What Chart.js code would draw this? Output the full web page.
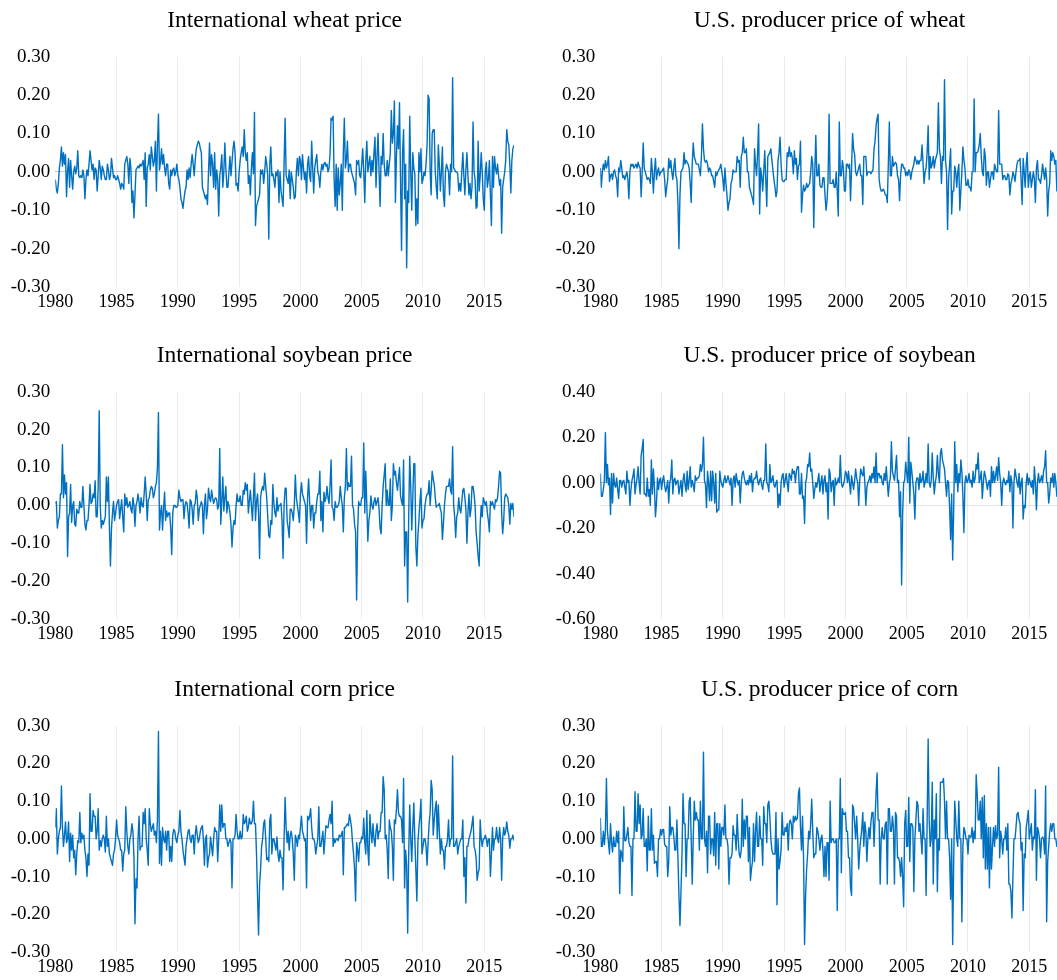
<!DOCTYPE html>
<html><head><meta charset="utf-8">
<script src="https://cdn.jsdelivr.net/npm/chart.js@4.4.1/dist/chart.umd.min.js"></script>
<style>
html,body{margin:0;padding:0;background:#fff;overflow:hidden;width:1057px;height:980px;}
body{position:relative;}
canvas{position:absolute;}
</style></head><body>
<canvas id="c0"></canvas><canvas id="c1"></canvas><canvas id="c2"></canvas>
<canvas id="c3"></canvas><canvas id="c4"></canvas><canvas id="c5"></canvas>
<script>
// Monthly series, first value = January 1980
const START_YEAR = 1980;
const xTickYears = [1980, 1985, 1990, 1995, 2000, 2005, 2010, 2015];
const titles = ["International wheat price", "U.S. producer price of wheat",
  "International soybean price", "U.S. producer price of soybean",
  "International corn price", "U.S. producer price of corn"];
const yTicksStd = [-0.30, -0.20, -0.10, 0.00, 0.10, 0.20, 0.30];
const yTicksUsSoy = [-0.60, -0.40, -0.20, 0.00, 0.20, 0.40];

const intlWheat = [
-0.02,-0.045,-0.055,-0.03,0.01,0.03,0.065,0.015,0.05,0.02,0.045,-0.065,
0.0,0.035,-0.04,0.03,-0.01,-0.045,0.0,0.015,-0.005,0.01,0.055,-0.01,
-0.015,-0.01,-0.015,0.005,-0.01,-0.07,-0.02,0.005,-0.01,0.02,0.055,0.03,
0.005,0.02,-0.02,0.01,0.005,-0.05,-0.01,0.03,0.01,-0.02,0.015,0.005,
-0.01,-0.02,-0.02,0.02,0.005,-0.02,-0.01,0.035,0.01,-0.015,-0.01,-0.02,
-0.02,-0.01,-0.02,-0.03,-0.045,-0.03,-0.035,-0.045,0.02,0.03,0.04,0.02,
-0.03,0.035,0.01,-0.08,-0.05,-0.12,-0.06,0.005,0.01,0.015,0.01,0.02,
0.015,0.02,0.03,-0.02,0.05,-0.09,0.01,0.02,0.045,0.005,0.065,0.04,
0.015,0.03,0.08,-0.05,0.07,0.15,0.005,0.025,0.06,0.02,0.045,0.01,
-0.01,0.02,0.02,-0.03,-0.045,0.005,-0.01,0.005,0.01,-0.01,0.0,0.02,
-0.01,-0.02,-0.04,-0.07,-0.08,-0.095,-0.07,-0.05,-0.04,0.005,-0.02,0.01,
-0.015,0.02,0.045,0.02,-0.01,0.03,0.06,0.07,0.08,0.075,0.06,0.05,
-0.04,-0.05,-0.06,-0.07,-0.06,-0.085,0.0,0.075,-0.01,0.045,0.02,-0.04,
0.05,-0.045,0.005,-0.02,-0.115,-0.01,0.01,0.045,-0.04,0.0,0.075,0.01,
-0.04,-0.04,0.0,0.04,-0.01,0.025,0.06,0.08,0.05,-0.035,-0.03,-0.05,
0.0,0.03,0.05,0.065,0.04,0.11,0.05,0.03,0.05,-0.03,-0.01,-0.06,
0.01,0.05,-0.005,0.155,-0.14,-0.09,-0.08,-0.07,-0.06,0.005,-0.005,0.005,
-0.03,0.0,0.04,0.02,-0.01,-0.175,0.02,0.065,-0.01,-0.005,-0.02,-0.04,
0.0,-0.01,0.005,-0.08,0.0,-0.05,-0.07,-0.09,0.02,0.14,-0.01,-0.02,
-0.03,0.005,-0.07,0.0,-0.02,-0.04,-0.07,-0.065,0.0,0.035,-0.01,0.04,
0.03,-0.02,0.045,0.01,-0.02,0.0,-0.055,0.02,0.04,-0.01,-0.025,0.08,
0.01,-0.055,0.01,0.03,0.045,0.0,-0.01,-0.04,0.0,0.02,0.005,0.02,
0.025,0.015,0.02,0.0,0.01,0.045,0.14,0.135,0.145,-0.02,-0.09,0.02,
-0.1,0.01,-0.06,-0.03,0.02,-0.1,0.05,0.14,0.01,0.03,0.08,0.0,
0.02,0.02,0.0,-0.01,-0.02,-0.03,-0.06,0.03,0.02,0.03,-0.01,-0.015,
0.02,0.06,0.0,-0.08,0.03,0.08,0.0,0.02,0.04,-0.01,0.03,0.0,
0.05,0.09,-0.04,0.04,0.10,0.0,-0.09,0.04,0.02,0.10,0.02,-0.01,
-0.01,0.03,-0.01,0.02,0.05,0.16,0.075,0.10,0.185,-0.08,0.04,0.12,
0.06,0.18,-0.02,-0.205,0.05,0.11,-0.07,0.02,-0.25,-0.05,-0.08,0.145,
0.0,-0.1,0.05,0.01,-0.005,-0.14,-0.07,-0.135,0.05,0.0,0.06,-0.03,
-0.02,0.0,-0.01,0.02,0.07,0.20,0.19,0.0,-0.06,0.10,0.11,0.11,
0.0,-0.04,-0.07,0.07,0.02,-0.05,0.0,0.065,-0.06,-0.09,0.0,0.02,
0.01,0.0,-0.06,0.02,0.0,0.245,0.01,0.005,0.0,0.0,-0.005,-0.05,
-0.03,-0.05,0.0,0.05,-0.01,-0.06,0.005,0.05,-0.01,-0.06,-0.03,-0.07,
-0.04,0.13,0.0,-0.02,-0.095,-0.09,0.08,-0.05,-0.01,0.05,0.0,-0.07,
-0.1,0.0,0.025,-0.04,-0.02,0.03,-0.06,-0.14,0.04,-0.04,0.04,0.01,
-0.005,0.02,-0.01,-0.035,-0.02,-0.16,-0.04,-0.02,0.0,0.03,0.11,0.08,
0.07,0.02,-0.055,0.03,0.06,0.07];

const usWheat = [
0.01,-0.04,0.0,0.02,0.005,0.03,0.01,0.02,0.04,-0.025,-0.01,-0.005,
-0.02,0.0,0.005,-0.01,-0.02,-0.065,0.01,0.0,0.03,0.01,-0.015,-0.01,
-0.02,-0.01,0.0,-0.02,-0.07,0.0,0.02,0.015,0.02,0.01,0.015,0.02,
0.01,0.025,0.015,0.01,-0.065,0.0,0.075,0.01,0.0,-0.01,-0.02,-0.015,
-0.02,-0.03,0.035,0.0,-0.055,0.0,0.035,-0.02,0.0,0.01,-0.01,0.0,
0.0,0.005,0.01,-0.02,-0.065,-0.04,-0.02,0.035,0.01,0.03,0.0,-0.02,
0.01,0.035,-0.01,-0.02,-0.08,-0.2,-0.06,0.0,0.005,0.01,0.05,0.02,
0.03,0.025,0.02,0.01,-0.03,-0.08,0.02,0.075,0.04,0.03,0.02,0.02,
0.02,0.005,-0.01,0.04,0.125,0.06,0.03,0.025,0.03,0.02,0.0,0.01,
0.005,-0.01,-0.01,-0.025,-0.04,0.0,-0.01,0.0,0.005,0.01,0.02,0.0,
-0.02,-0.05,0.01,-0.03,-0.06,-0.1,-0.08,-0.07,-0.03,-0.02,0.005,0.0,
0.0,0.0,0.04,0.025,0.03,-0.04,0.04,0.05,0.09,0.05,0.05,0.06,
0.0,0.0,-0.04,-0.05,-0.06,-0.07,-0.085,0.06,0.02,-0.01,0.05,0.125,
-0.11,0.01,-0.01,-0.05,0.0,0.055,-0.02,-0.09,0.04,0.045,0.05,0.06,
0.03,0.005,-0.02,-0.04,-0.065,-0.05,0.03,0.05,0.09,0.02,-0.02,-0.025,
-0.025,-0.02,-0.02,0.05,0.04,0.065,0.04,0.05,0.035,-0.005,0.055,0.02,
0.035,-0.02,0.015,0.02,0.08,-0.105,-0.06,-0.035,-0.05,-0.045,-0.03,-0.04,
-0.035,-0.03,0.0,0.04,0.02,-0.145,0.0,0.095,-0.01,-0.01,0.02,-0.035,
-0.04,-0.04,-0.015,-0.015,-0.06,-0.1,-0.075,-0.02,0.15,-0.03,-0.03,-0.03,
-0.02,-0.04,-0.04,0.0,-0.05,-0.115,0.13,-0.01,-0.01,0.03,0.01,-0.05,
-0.05,0.02,0.02,0.01,0.02,-0.075,0.01,0.1,0.06,0.045,0.0,-0.01,
0.0,0.01,0.02,-0.01,-0.01,-0.085,0.04,0.04,0.04,-0.01,0.0,0.0,
0.0,-0.005,0.0,0.005,0.06,0.08,0.12,0.14,0.15,-0.02,-0.04,-0.05,
-0.05,-0.045,-0.05,-0.06,-0.06,-0.08,0.02,0.13,-0.01,-0.01,0.04,0.015,
0.02,0.025,0.02,-0.01,-0.02,-0.075,-0.01,0.02,0.02,0.01,0.01,-0.01,
0.0,-0.01,0.005,0.0,-0.02,0.0,0.01,0.02,0.04,0.03,0.02,0.03,
0.02,0.03,0.03,0.07,0.02,-0.03,0.0,0.01,0.05,0.12,-0.02,0.04,
0.01,0.02,0.04,0.01,0.03,0.04,0.05,0.18,0.06,0.04,-0.03,0.04,
0.03,0.24,0.03,0.0,-0.15,-0.02,0.02,0.06,-0.11,-0.05,-0.05,0.015,
0.0,-0.04,0.0,0.02,-0.1,-0.05,0.0,0.065,0.03,0.01,-0.035,-0.035,
-0.02,-0.04,-0.04,-0.05,0.0,0.0,0.19,0.0,0.05,0.05,0.055,0.07,
0.1,0.04,0.0,-0.01,0.06,0.04,-0.035,0.0,0.0,-0.04,-0.02,0.0,
0.0,-0.02,0.02,0.01,0.0,0.0,0.16,0.02,0.02,0.02,-0.02,-0.01,
-0.01,-0.02,-0.02,-0.005,-0.01,-0.06,-0.03,-0.02,0.0,-0.01,-0.025,0.0,
0.02,0.03,0.03,0.035,-0.02,-0.085,0.035,0.0,-0.04,0.02,0.05,-0.04,
-0.01,0.0,-0.04,-0.02,0.0,-0.02,-0.08,0.01,0.03,-0.02,-0.02,-0.03,
-0.01,0.02,0.0,-0.02,0.01,-0.02,-0.115,-0.05,-0.03,0.055,0.03,0.05,
0.04,0.02,0.03,-0.05,-0.04,-0.03];

const intlSoy = [
0.005,0.01,-0.06,-0.04,-0.03,0.03,0.03,0.16,0.02,0.08,0.03,0.06,
-0.135,-0.03,-0.02,0.055,-0.045,0.0,0.01,-0.05,-0.055,-0.01,-0.02,-0.02,
0.01,-0.005,-0.005,0.05,0.0,-0.05,-0.065,-0.04,-0.04,0.0,0.055,0.005,
0.01,0.03,0.02,0.065,-0.03,-0.03,0.05,0.25,0.0,-0.06,-0.04,-0.05,
-0.04,-0.03,0.075,0.01,0.075,-0.06,-0.16,-0.06,-0.02,0.01,-0.04,-0.02,
0.0,0.01,0.015,-0.035,-0.01,0.015,-0.03,-0.07,0.03,0.0,0.02,-0.005,
0.0,0.01,-0.01,-0.02,0.02,0.0,-0.055,0.0,0.01,0.03,0.01,-0.02,
0.02,0.0,-0.005,0.03,0.075,0.03,-0.04,0.015,0.02,0.04,0.05,0.045,
0.02,0.03,0.05,0.06,0.1,0.245,-0.065,-0.02,0.0,-0.065,-0.01,0.035,
-0.04,-0.015,-0.03,-0.02,-0.02,-0.06,-0.13,-0.02,0.0,0.0,-0.005,-0.005,
0.0,0.04,0.02,0.01,0.015,0.015,-0.035,0.0,0.01,0.005,-0.02,-0.06,
0.015,0.01,-0.01,-0.05,0.0,0.005,0.04,0.02,-0.04,-0.01,0.0,0.01,
0.0,-0.075,0.0,0.03,-0.035,-0.01,0.045,0.02,0.01,0.04,0.02,0.005,
0.015,0.02,0.015,-0.01,0.0,0.15,-0.05,0.01,0.075,-0.015,0.02,0.05,
-0.02,0.01,0.0,-0.02,-0.05,-0.11,-0.06,-0.04,-0.05,0.0,0.03,0.01,
0.01,0.025,0.0,0.0,0.04,0.03,0.06,0.04,0.055,-0.02,0.01,0.04,
0.0,-0.04,0.02,0.085,-0.04,0.01,0.03,-0.02,-0.14,0.02,0.04,0.05,
0.04,0.085,0.05,0.02,-0.03,-0.08,-0.085,-0.04,-0.05,0.055,0.005,-0.02,
-0.03,0.02,-0.015,0.0,0.0,0.005,-0.04,-0.14,0.0,0.045,0.045,-0.04,
-0.06,-0.085,-0.01,-0.01,-0.02,-0.04,0.0,0.08,0.02,0.0,-0.02,-0.045,
0.03,0.06,0.03,0.02,0.01,0.0,-0.1,0.02,0.07,0.01,-0.04,0.0,
0.0,-0.06,-0.02,-0.02,0.01,0.03,0.03,0.09,-0.04,0.01,-0.07,0.035,
0.01,0.02,0.05,0.02,0.005,0.05,0.12,-0.005,-0.01,-0.04,0.01,-0.005,
-0.005,0.0,0.01,0.05,0.02,0.0,-0.07,0.02,0.05,0.15,0.04,0.06,
0.05,0.05,0.13,0.0,-0.01,-0.05,-0.07,-0.25,-0.07,0.01,0.0,0.0,
0.02,0.02,0.165,-0.02,0.09,0.0,-0.095,-0.04,-0.02,0.025,0.0,-0.01,
0.01,0.02,0.0,0.01,0.02,-0.01,-0.06,-0.075,0.0,0.05,0.08,0.11,
0.0,0.04,0.0,0.0,0.07,-0.04,0.0,0.11,0.08,0.09,0.06,0.04,
0.07,0.1,0.025,0.01,0.0,0.12,-0.16,-0.07,-0.07,-0.255,-0.03,0.13,
0.05,-0.065,0.02,0.11,0.11,-0.11,-0.16,-0.08,-0.04,0.01,0.045,-0.06,
-0.04,-0.035,0.0,0.02,0.03,0.03,0.065,0.0,0.04,0.09,0.07,0.055,
0.02,-0.005,0.0,0.0,0.005,-0.01,-0.02,-0.09,-0.05,0.0,0.03,0.05,
0.05,0.05,0.07,0.04,0.03,0.155,0.0,-0.03,-0.085,-0.03,-0.02,0.02,
-0.01,-0.02,0.01,0.04,0.045,0.02,-0.01,-0.1,-0.02,0.03,-0.03,-0.01,
0.05,0.05,0.03,0.0,-0.07,-0.1,-0.135,-0.16,-0.05,0.0,-0.03,0.02,
0.01,0.0,0.01,-0.02,-0.04,-0.07,0.01,0.0,0.01,0.0,-0.01,0.015,
0.01,0.02,0.05,0.09,0.085,-0.02,-0.075,-0.04,0.02,0.03,0.025,0.02,
0.0,-0.05,0.005,-0.01,0.005,-0.03];

const usSoy = [
0.04,-0.06,-0.06,-0.03,0.01,0.22,0.0,0.08,-0.01,0.02,-0.14,0.04,
-0.09,0.04,-0.01,-0.02,0.02,-0.03,-0.07,0.01,0.01,-0.02,0.005,0.01,
-0.02,-0.05,0.05,0.0,0.01,-0.1,-0.03,0.01,0.03,0.06,-0.05,-0.01,
0.02,0.07,0.0,-0.05,0.12,0.15,0.19,-0.05,-0.05,-0.06,0.02,-0.06,
-0.03,-0.1,0.1,-0.05,0.06,-0.02,-0.15,-0.09,0.02,-0.03,0.01,0.02,
-0.03,0.01,0.03,-0.01,-0.04,-0.02,0.01,-0.09,0.0,0.02,0.1,-0.05,
0.01,0.02,-0.01,0.005,0.01,-0.05,-0.02,0.01,-0.06,0.01,0.04,-0.01,
-0.04,0.05,-0.03,0.01,0.07,-0.02,0.01,-0.01,-0.04,0.03,0.01,0.02,
0.02,0.03,0.08,0.05,0.08,0.2,0.01,-0.01,-0.11,0.05,0.0,-0.08,
0.05,-0.08,0.05,0.0,-0.09,0.04,-0.13,-0.12,-0.12,0.05,0.01,-0.01,
-0.02,0.01,0.03,0.0,0.01,0.03,0.01,-0.01,0.02,-0.1,0.01,0.03,
-0.02,0.04,0.01,-0.01,0.01,-0.09,0.0,0.04,0.05,0.02,0.0,-0.01,
0.01,-0.01,0.03,0.0,0.04,-0.04,0.01,0.02,0.02,0.05,0.01,-0.01,
0.01,0.02,-0.01,-0.03,0.01,0.01,0.17,0.0,-0.01,-0.04,0.08,0.0,
0.01,0.03,-0.01,-0.02,0.0,0.01,-0.11,-0.05,-0.1,0.0,0.03,0.04,
-0.02,0.01,0.04,0.0,-0.04,0.04,0.03,0.01,0.06,0.04,0.05,0.0,
0.05,0.07,0.07,-0.05,-0.05,0.04,-0.07,-0.06,-0.18,0.0,0.02,0.08,
0.07,0.13,0.05,0.06,0.0,-0.07,-0.03,0.0,-0.02,0.01,0.04,-0.04,
0.0,0.03,-0.05,0.01,0.03,-0.04,0.0,-0.16,0.06,0.04,-0.04,0.0,
0.01,-0.1,0.02,-0.01,0.0,0.02,0.0,0.12,0.0,-0.02,-0.01,0.01,
0.05,0.04,0.0,0.05,0.0,-0.05,0.03,0.0,-0.03,0.01,0.06,0.02,
0.0,-0.1,0.01,0.06,0.04,0.03,0.07,0.0,-0.1,-0.02,0.0,0.01,
0.03,0.0,0.04,0.02,0.07,0.0,0.13,0.0,0.04,0.04,0.02,0.03,
0.0,-0.01,0.04,0.01,0.07,0.0,-0.06,0.0,0.02,0.18,0.05,0.03,
0.01,0.06,0.12,0.0,0.01,-0.15,-0.04,-0.45,-0.14,0.0,0.01,0.09,
0.04,0.0,0.2,-0.09,0.09,0.05,0.0,-0.05,-0.16,0.0,0.02,0.02,
-0.03,0.04,0.0,0.01,0.05,-0.02,0.0,0.04,0.0,0.17,0.0,-0.02,
0.01,0.13,0.02,-0.05,0.0,0.03,0.12,0.04,0.0,0.13,0.15,0.1,
0.08,0.06,0.0,-0.06,0.01,0.0,-0.11,-0.25,-0.05,-0.34,-0.12,0.18,
0.0,0.08,-0.04,0.04,0.0,0.1,0.05,-0.06,-0.22,0.0,0.03,0.0,
0.01,0.04,0.0,0.01,-0.02,0.05,0.0,0.02,0.08,0.06,0.13,0.0,
0.02,0.05,-0.07,0.0,0.05,0.03,0.0,-0.03,0.0,0.01,-0.06,0.07,
0.0,0.05,0.0,0.03,0.07,0.01,0.11,0.04,0.0,-0.1,0.0,0.02,
0.0,-0.01,0.01,0.0,0.05,-0.04,0.03,0.0,-0.2,0.0,0.06,0.03,
0.0,-0.02,0.04,-0.05,0.0,0.02,-0.16,-0.1,-0.11,0.0,0.04,-0.01,
0.02,0.0,-0.02,0.01,-0.05,0.07,0.0,-0.12,0.0,0.04,0.0,0.01,
0.03,0.0,0.05,0.07,0.14,0.0,0.0,-0.09,-0.05,0.02,0.0,0.04,
-0.02,0.04,0.0,-0.06,-0.04,-0.05];

const intlCorn = [
0.03,0.08,-0.04,0.0,0.02,0.03,0.14,0.03,-0.02,0.01,0.045,-0.01,
0.0,0.045,-0.06,0.015,-0.03,0.01,-0.05,-0.03,-0.095,-0.04,-0.005,-0.01,
0.07,-0.01,0.015,0.0,0.01,-0.03,-0.05,-0.1,-0.04,-0.07,0.12,0.02,
0.02,0.075,0.06,0.06,0.0,0.02,0.08,-0.03,-0.005,-0.02,0.0,0.01,
0.0,-0.035,0.06,-0.02,0.0,-0.04,-0.05,-0.06,-0.07,-0.04,-0.03,0.0,
0.05,0.01,0.0,-0.01,-0.03,-0.03,-0.085,-0.04,-0.03,0.085,0.02,-0.02,
-0.04,0.0,0.01,0.04,0.02,-0.05,-0.225,-0.105,-0.13,0.0,0.06,-0.03,
-0.02,-0.02,0.07,0.04,0.08,0.0,-0.03,-0.07,0.08,0.04,0.02,0.03,
0.04,0.01,0.02,-0.01,0.05,0.285,-0.065,0.02,-0.07,0.03,0.0,-0.01,
0.02,-0.03,0.02,0.02,-0.06,-0.02,-0.06,0.01,0.025,0.02,0.0,-0.01,
0.01,0.02,0.075,0.02,0.0,-0.03,-0.05,-0.07,-0.02,0.0,0.02,0.025,
0.0,-0.01,0.01,0.01,-0.04,0.01,0.035,0.01,-0.01,0.0,0.02,0.03,
0.035,0.0,-0.07,0.0,0.01,-0.075,-0.05,-0.04,0.005,-0.02,-0.045,0.0,
0.03,0.02,0.02,-0.06,0.0,0.09,0.02,0.09,0.03,0.04,0.04,0.0,
0.0,-0.02,-0.01,0.0,-0.01,-0.13,0.0,0.0,0.01,0.065,0.02,0.0,
0.0,0.02,0.0,0.005,0.065,0.04,0.045,0.06,0.02,0.03,0.055,0.04,
0.04,0.05,0.1,0.04,0.04,-0.04,-0.15,-0.255,-0.12,-0.08,-0.02,0.0,
0.04,0.05,0.0,-0.055,-0.05,-0.06,0.05,0.065,-0.04,0.0,0.0,-0.015,
-0.03,0.005,-0.04,-0.06,-0.03,-0.05,-0.05,-0.135,0.0,0.11,0.03,-0.01,
0.02,-0.03,0.01,0.02,0.0,-0.04,-0.11,0.01,0.0,-0.02,0.01,0.0,
0.03,0.06,0.02,0.01,-0.005,0.0,-0.13,0.06,0.05,0.06,0.08,0.03,
0.0,0.0,-0.01,-0.04,-0.02,0.0,0.085,-0.02,-0.02,0.0,0.02,-0.04,
0.0,0.035,0.03,0.03,0.05,0.065,0.04,0.1,-0.02,0.0,-0.01,0.0,
0.0,-0.005,0.01,0.005,0.01,0.02,-0.095,0.03,0.03,0.035,0.04,0.035,
0.065,0.05,0.03,-0.01,-0.04,-0.08,-0.165,-0.01,-0.03,-0.06,-0.01,-0.01,
0.005,0.0,0.055,-0.01,-0.04,0.075,-0.03,-0.07,0.065,0.02,-0.01,0.04,
0.0,-0.02,0.02,0.04,0.0,0.02,0.02,0.07,0.07,0.165,0.13,0.0,
0.01,-0.03,-0.105,0.05,0.03,0.02,-0.02,-0.11,0.05,0.04,0.08,0.13,
0.07,0.06,0.06,0.05,-0.01,0.16,-0.13,-0.03,-0.07,-0.25,-0.04,0.09,
0.0,-0.06,0.03,0.095,0.0,-0.08,-0.165,-0.01,0.03,0.06,0.105,-0.04,
-0.02,0.0,0.0,-0.02,-0.07,-0.01,0.04,0.07,0.155,0.13,0.01,0.05,
0.08,0.1,0.0,0.09,0.02,-0.04,0.0,-0.03,-0.03,-0.08,-0.02,-0.02,
0.0,0.05,-0.02,0.0,0.0,0.22,-0.02,-0.02,-0.01,0.0,-0.04,-0.02,
-0.01,0.0,0.0,0.05,-0.1,-0.05,-0.17,-0.02,-0.02,0.0,0.01,0.02,
0.04,0.06,-0.02,-0.03,-0.05,-0.11,-0.09,-0.08,0.05,0.0,-0.02,0.0,
0.0,0.01,0.0,-0.02,0.0,0.0,-0.1,-0.04,0.03,-0.03,0.0,0.0,
0.03,0.0,-0.01,0.03,0.0,-0.11,0.0,0.03,0.01,0.02,0.045,0.02,
0.01,-0.025,0.0,0.0,0.01,-0.005];

const usCorn = [
0.055,-0.02,-0.02,0.02,-0.015,0.02,0.16,0.02,-0.01,-0.04,0.04,-0.01,
-0.035,0.005,-0.02,-0.02,0.02,-0.01,0.02,-0.145,-0.03,-0.04,-0.06,0.085,
-0.005,-0.005,0.01,0.03,-0.01,-0.02,-0.02,-0.15,0.0,0.0,0.125,0.02,
0.02,0.12,0.04,0.09,0.0,0.01,0.08,-0.02,-0.02,0.0,-0.085,0.06,
-0.03,-0.03,0.08,-0.03,0.01,-0.065,-0.06,-0.06,-0.1,0.0,0.0,0.025,
0.01,0.025,0.025,-0.015,-0.02,-0.02,-0.1,-0.06,0.085,0.01,0.03,0.03,
0.005,-0.03,-0.03,0.05,-0.05,-0.15,-0.23,-0.14,-0.04,0.12,0.04,0.04,
-0.1,0.0,0.0,0.1,0.11,0.0,-0.12,0.0,0.1,0.05,0.07,0.05,
0.05,-0.03,0.1,0.0,0.0,0.23,0.0,-0.02,0.02,-0.09,0.06,0.06,
-0.04,0.0,0.0,-0.045,0.07,-0.07,0.04,0.04,-0.08,0.04,-0.02,0.03,
0.03,0.01,0.09,0.0,0.0,-0.02,-0.12,-0.05,-0.05,-0.04,0.035,0.01,
0.01,-0.03,0.065,0.0,-0.04,-0.05,-0.03,0.105,-0.02,0.05,0.0,0.06,
0.06,-0.06,0.03,-0.11,-0.08,-0.06,0.04,-0.06,0.02,0.07,-0.02,-0.02,
0.06,0.0,0.0,-0.07,0.085,0.04,0.04,-0.01,0.09,0.1,0.06,0.0,
-0.03,-0.04,-0.04,-0.04,0.07,-0.175,0.0,-0.08,-0.06,-0.03,0.07,0.01,
0.01,0.03,0.02,0.04,-0.03,0.04,0.05,0.04,0.0,0.06,0.045,0.06,
0.05,0.055,0.12,0.135,0.03,-0.03,0.06,-0.05,-0.28,-0.15,-0.08,-0.04,
0.02,0.0,0.04,0.105,0.02,-0.05,-0.04,-0.04,0.03,0.02,0.0,-0.03,
0.0,0.01,-0.03,-0.1,-0.02,-0.1,-0.01,-0.01,-0.11,0.1,-0.01,0.0,
0.0,-0.01,-0.01,0.0,-0.19,0.0,0.0,0.16,-0.09,0.08,0.065,0.065,
0.07,0.02,0.02,-0.05,-0.05,-0.13,-0.15,0.09,0.08,0.04,0.0,0.06,
0.0,-0.08,-0.03,0.0,0.025,0.07,-0.02,0.045,0.02,-0.06,0.0,0.03,
0.0,0.045,0.07,0.07,-0.02,0.05,0.12,0.175,0.05,0.05,-0.12,0.0,
0.03,0.0,0.0,0.04,0.045,-0.12,0.08,0.08,0.02,0.02,0.06,0.03,
-0.12,0.07,0.06,-0.05,-0.05,-0.06,-0.1,-0.05,-0.1,-0.18,0.04,0.075,
-0.02,-0.02,0.11,-0.06,0.04,0.04,0.03,-0.14,0.0,0.05,0.1,0.09,
0.02,0.04,0.0,-0.04,0.08,0.0,0.0,-0.15,0.05,0.265,0.05,-0.02,
0.0,0.15,-0.12,0.05,0.0,0.12,-0.14,0.0,-0.03,0.15,0.15,0.15,
0.16,0.1,0.0,0.1,0.0,0.0,-0.05,-0.16,0.0,-0.28,-0.06,0.1,
0.05,0.0,-0.02,0.1,0.0,0.0,-0.22,-0.02,0.03,0.02,0.0,0.0,
-0.04,0.01,0.005,0.005,0.03,-0.01,0.02,0.0,0.17,0.12,0.05,0.05,
0.1,0.0,0.11,-0.05,0.115,-0.08,0.04,-0.08,0.03,-0.13,0.03,-0.08,
-0.02,0.03,-0.02,0.035,0.0,0.01,0.19,-0.05,0.02,0.0,-0.04,0.0,
0.0,0.03,-0.03,0.04,-0.12,-0.12,-0.14,-0.21,-0.1,0.0,0.0,0.03,
0.065,0.07,0.05,0.04,-0.03,-0.01,-0.19,-0.04,-0.05,0.03,0.05,0.075,
0.0,0.02,0.04,-0.03,0.005,0.0,0.13,-0.11,0.03,0.02,0.0,-0.05,
0.0,0.005,0.0,-0.04,0.14,-0.22,-0.06,-0.02,0.02,0.04,0.02,0.04,
0.04,0.0,0.0,-0.02,-0.01,-0.02];

// ---- layout (not data) ----
const FONT = "'Liberation Serif','Times New Roman',serif";
const panels = [
  {id:'c0', title:titles[0], values:intlWheat, yTicks:yTicksStd, left:0,   top:0,   h:320},
  {id:'c1', title:titles[1], values:usWheat,   yTicks:yTicksStd, left:545, top:0,   h:320},
  {id:'c2', title:titles[2], values:intlSoy,   yTicks:yTicksStd, left:0,   top:335, h:317, extraLine:null},
  {id:'c3', title:titles[3], values:usSoy,     yTicks:yTicksUsSoy, left:545, top:335, h:317, extraLine:-0.10},
  {id:'c4', title:titles[4], values:intlCorn,  yTicks:yTicksStd, left:0,   top:669, h:316},
  {id:'c5', title:titles[5], values:usCorn,    yTicks:yTicksStd, left:545, top:669, h:316}
];
const W = 530, Y_AXIS_W = 55.3, PAD_R = 16.1, X_AXIS_H = 33;

panels.forEach(p => {
  const cv = document.getElementById(p.id);
  cv.width = W; cv.height = p.h;
  cv.style.left = p.left + 'px'; cv.style.top = p.top + 'px';
  cv.style.width = W + 'px'; cv.style.height = p.h + 'px';
  const pts = p.values.map((v, i) => ({x: START_YEAR + i / 12, y: v}));
  const yMin = p.yTicks[0], yMax = p.yTicks[p.yTicks.length - 1];
  const yStep = p.yTicks[1] - p.yTicks[0];
  new Chart(cv, {
    type: 'line',
    data: {datasets: [{data: pts, borderColor: '#0070C0', borderWidth: 1.4,
      pointRadius: 0, tension: 0, fill: false, borderJoinStyle: 'round'}]},
    options: {
      responsive: false, animation: false, events: [],
      layout: {padding: {left: 0, right: PAD_R, top: 0, bottom: 0}},
      plugins: {
        legend: {display: false}, tooltip: {enabled: false},
        title: {display: true, text: p.title, fullSize: false, color: '#000',
          font: {family: FONT, size: 23.5, weight: 'normal', lineHeight: 1.2},
          padding: {top: 7, bottom: 21.5}}
      },
      scales: {
        x: {type: 'linear', min: START_YEAR, max: START_YEAR + (p.values.length - 1) / 12,
          border: {display: false},
          grid: {drawTicks: false, lineWidth: 1,
            color: c => (c.tick && Math.round(c.tick.value) === xTickYears[0]) ? 'rgba(0,0,0,0)' : '#ebebeb'},
          ticks: {stepSize: 5, includeBounds: false, autoSkip: false, maxRotation: 0, padding: 4.2,
            color: '#000', font: {family: FONT, size: 18},
            callback: v => { const r = Math.round(v); return (Math.abs(v - r) < 1e-6 && xTickYears.includes(r)) ? String(r) : ''; }},
          afterFit: s => { s.height = X_AXIS_H; }
        },
        y: {min: yMin, max: yMax,
          border: {display: false},
          grid: {drawTicks: false, lineWidth: 1,
            color: c => {
              const v = c.tick ? c.tick.value : NaN;
              if (Math.abs(v) < 1e-9) return '#c4c4c4';
              return 'rgba(0,0,0,0)';
            }},
          ticks: {stepSize: yStep, padding: 5, color: '#000', font: {family: FONT, size: 19},
            callback: v => Number(v).toFixed(2)},
          afterFit: s => { s.width = Y_AXIS_W; }
        }
      }
    },
    plugins: p.extraLine == null ? [] : [{
      id: 'extraLine',
      beforeDatasetsDraw(chart) {
        const y = chart.scales.y.getPixelForValue(p.extraLine);
        const ctx = chart.ctx, a = chart.chartArea;
        ctx.save(); ctx.strokeStyle = '#e4e4e4'; ctx.lineWidth = 1;
        ctx.beginPath(); ctx.moveTo(a.left, Math.round(y) + 0.5); ctx.lineTo(a.right, Math.round(y) + 0.5); ctx.stroke();
        ctx.restore();
      }
    }]
  });
});
</script>
</body></html>
